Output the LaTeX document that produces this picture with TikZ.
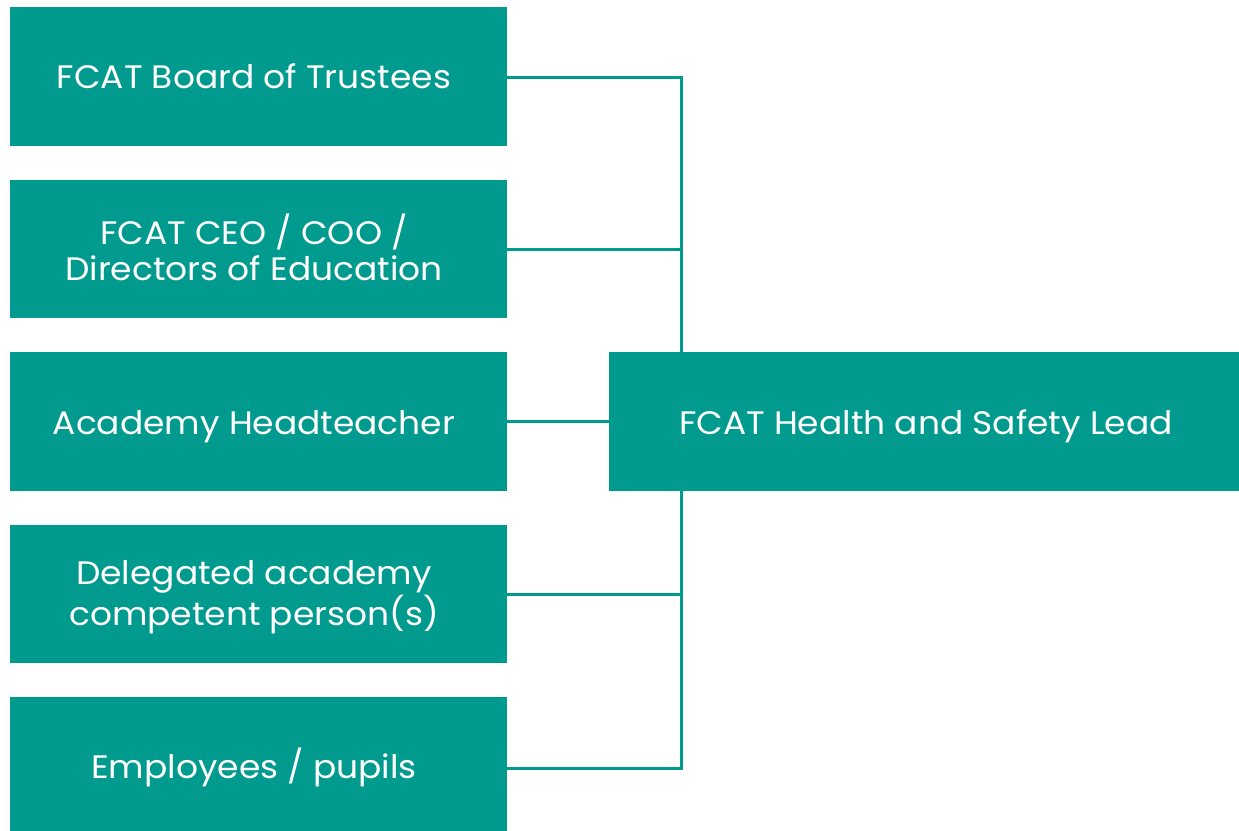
\documentclass[tikz,border=0pt]{standalone}
\usepackage{fontspec}
\setmainfont{Poppins}[FakeStretch=1.06]
\definecolor{teal1}{HTML}{009A8F}
\begin{document}
\begin{tikzpicture}[x=1pt,y=-1pt,
  box/.style={fill=teal1,draw=none},
  lbl/.style={text=white,align=center,font=\fontsize{32.5}{36}\selectfont,inner sep=0pt,anchor=base},
  conn/.style={draw=teal1,line width=3pt}]
\useasboundingbox (0,0) rectangle (1239,830);
\path[box] (10,7) rectangle (507,146);
\path[box] (10,180) rectangle (507,318);
\path[box] (10,352) rectangle (507,491);
\path[box] (10,525) rectangle (507,663);
\path[box] (10,697) rectangle (507,840);
\path[box] (609,352) rectangle (1239,491);
\node[lbl] (b1) at (254,88) {FCAT Board of Trustees};
\node[lbl] (b2) at (254,280) {FCAT CEO / COO /\\Directors of Education};
\node[lbl] (b3) at (254,434) {Academy Headteacher};
\node[lbl] (b4) at (254,625) {Delegated academy\\competent person(s)};
\node[lbl] (b5) at (254,778) {Employees / pupils};
\node[lbl] (h) at (926,434) {FCAT Health and Safety Lead};
\coordinate (e1) at (507,77);
\coordinate (e2) at (507,249);
\coordinate (e3) at (507,421.5);
\coordinate (e4) at (507,594);
\coordinate (e5) at (507,768);
\coordinate (hl) at (609,421.5);
\coordinate (ht) at (681,352);
\coordinate (hb) at (681,491);
\coordinate (v1) at (681,77);
\coordinate (v2) at (681,249);
\coordinate (v4) at (681,594);
\coordinate (v5) at (681,768);
\draw[conn] (e1) -- (v1) -- (ht);
\draw[conn] (e2) -- (v2);
\draw[conn] (e3) -- (hl);
\draw[conn] (e4) -- (v4);
\draw[conn] (hb) -- (v5) -- (e5);
\end{tikzpicture}
\end{document}
